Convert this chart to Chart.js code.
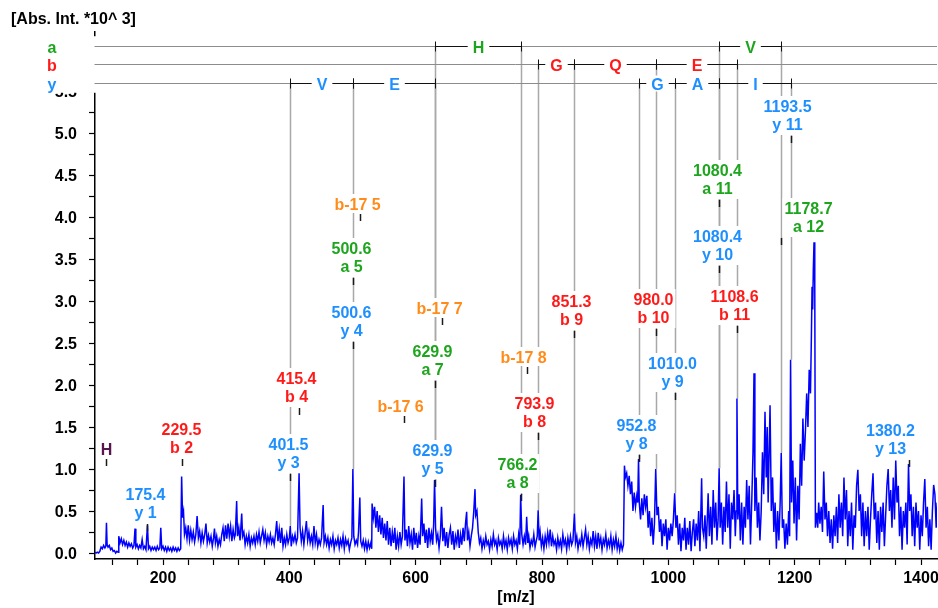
<!DOCTYPE html>
<html>
<head>
<meta charset="utf-8">
<script src="https://cdn.jsdelivr.net/npm/chart.js@4/dist/chart.umd.min.js"></script>
<style>
  html, body { margin: 0; padding: 0; background: #fff; }
  canvas { display: block; }
</style>
</head>
<body>
<canvas id="spec" width="938" height="608"></canvas>
<script>
// ---------- MS/MS spectrum: [m/z, intensity (x10^3)] ----------
const spectrumLow = [
  [92.4,0.01],[94,0.0],[96,0.01],[98,0.0],[100,0.02],[102,0.07],[104,0.05],[106,0.09],[108,0.06],[109.5,0.08],
  [110.5,0.36],[111.5,0.1],[113,0.07],[115,0.09],[117,0.04],[119,0.06],[121,0.02],[123,0.03],[125,0.0],[127,0.02],
  [129,0.01],[130,0.2],[132,0.12],[134,0.17],[136,0.1],[138,0.15],[140,0.09],[142,0.13],[144,0.07],[146,0.12],
  [148,0.08],[150,0.11],[152,0.06],[154,0.09],[155.7,0.29],[157,0.07],[159,0.1],[161,0.05],[163,0.09],[165,0.06],
  [167,0.16],[169,0.05],[171,0.08],[173,0.04],[175.4,0.33],[177,0.05],[179,0.08],[181,0.03],[183,0.07],[185,0.04],
  [187,0.07],[189,0.03],[191,0.08],[193,0.04],[195,0.06],[196.5,0.3],[198,0.05],[200,0.08],[202,0.03],[204,0.07],
  [206,0.02],[208,0.07],[210,0.03],[212,0.06],[214,0.02],[216,0.07],[218,0.03],[220,0.06],[222,0.02],[224,0.06],
  [226,0.03],[228,0.05]
];
const spectrumMidLow = [
  [229.5,0.91],[231,0.42],[232.5,0.49],[234,0.22],[236,0.3],[238,0.17],[240,0.33],[242,0.15],[244,0.27],[246,0.16],
  [248,0.25],[250,0.13],[252,0.22],[254,0.44],[256,0.18],[258,0.26],[260,0.12],[262,0.24],[264,0.14],[266,0.22],
  [268,0.35],[270,0.12],[272,0.21],[274,0.13],[276,0.2],[278,0.08],[280,0.18],[281.5,0.29],[283,0.12],[285,0.2],
  [287,0.08],[289,0.16],[291,0.1],[293,0.22],[295,0.3],[297,0.14],[299,0.33],[301,0.17],[303,0.35],[305,0.2],
  [307,0.32],[309,0.14],[311,0.28],[313,0.18],[314.5,0.22],[316.6,0.62],[318,0.2],[320,0.3],[322,0.15],[324.6,0.47],
  [326,0.2],[328,0.25],[330,0.1],[332,0.2],[334,0.12],[336,0.22],[338,0.08],[340,0.18],[342,0.12],[344,0.2],
  [346,0.1],[348,0.22],[350,0.14],[352,0.25],[354,0.12],[356,0.2],[358,0.28],[360,0.15],[362,0.24],[364,0.1],
  [366,0.2],[368,0.13],[370,0.22],[372,0.12],[374,0.18],[376,0.1],[378,0.22],[380,0.38],[382,0.14],[384,0.28],
  [386,0.12],[388,0.3],[390,0.08],[392,0.18],[394,0.1],[396,0.22],[398,0.12],[400,0.18],[401.5,0.32],[403,0.08],
  [405,0.2],[407,0.14],[409,0.22],[411,0.12],[413,0.18],[415.4,0.95],[417,0.3],[419,0.14],[421,0.26],[423,0.1],
  [425,0.24],[427,0.38],[429,0.15],[431,0.25],[433,0.12],[435,0.2],[437,0.1],[439,0.32],[441,0.12],[443,0.22],
  [445,0.08],[447,0.16],[449,0.1],[451,0.18],[453.5,0.57],[455,0.12],[457,0.2],[459,0.1],[461,0.18],[463,0.06],
  [465,0.16],[467,0.1],[469,0.2],[471,0.05],[473,0.15],[475,0.1],[477,0.18],[479,0.06],[481,0.16],[483,0.09],
  [485,0.2],[487,0.05],[489,0.17],[491,0.1],[493,0.15],[495,0.04],[497,0.12],[499,0.18]
];
const spectrumMid = [
  [500.6,1.0],[502,0.2],[504,0.1],[506,0.15],[508,0.1],[509.5,0.25],[511.6,0.66],[513,0.14],[515,0.08],[517,0.15],
  [519,0.05],[521,0.14],[523,0.04],[525,0.13],[527,0.06],[529,0.12],[530.4,0.05],[531,0.59],[533,0.42],[535,0.55],
  [537,0.3],[539,0.5],[541,0.25],[543,0.45],[545,0.22],[547,0.42],[549,0.18],[551,0.35],[553,0.15],[555,0.38],
  [557,0.1],[559,0.3],[561,0.08],[563,0.25],[565,0.12],[567,0.3],[569,0.04],[571,0.2],[573,0.08],[575,0.25],
  [577,0.1],[579,0.2],[581.5,0.91],[583,0.15],[585,0.28],[587,0.08],[589,0.32],[591,0.12],[593,0.22],[595,0.04],
  [597,0.3],[599,0.1],[601,0.24],[603,0.06],[605,0.2],[607,0.1],[609.5,0.65],[611,0.2],[613,0.35],[615,0.12],
  [617,0.28],[619,0.06],[621,0.3],[623,0.14],[625,0.24],[627,0.1],[628.5,0.35],[629.9,0.87],[631.5,0.3],[633,0.15],
  [635,0.22],[637,0.06],[639,0.2],[640.9,0.55],[643,0.14],[645,0.3],[647,0.08],[649,0.25],[651,0.06],[653,0.22],
  [655,0.3],[657,0.1],[659,0.26],[661,0.04],[663,0.2],[665,0.12],[667,0.28],[669,0.06],[671,0.22],[673,0.1],
  [675,0.3],[677,0.14],[679,0.36],[680.7,0.49],[682,0.15],[684,0.25],[686,0.08],[688,0.2],[690,0.3],[692,0.5],
  [693.9,0.76],[695,0.45],[697,0.5],[699,0.25],[701,0.12],[703,0.18],[705,0.05],[707,0.15],[709,0.08],[711,0.2],
  [713,0.1],[715,0.14],[717,0.04],[719,0.16],[721,0.08],[723,0.22],[725,0.1],[727,0.15],[729,0.04],[731,0.18],
  [733,0.1],[735,0.14],[737,0.05],[739,0.2],[741,0.08],[743,0.15],[745,0.04],[747,0.18],[749,0.1],[751,0.16],
  [753,0.05],[755,0.2],[757,0.1],[759,0.15],[761,0.05],[763,0.22],[764.8,0.1],[766.2,0.69],[768,0.22],[770,0.1],
  [772,0.2],[774,0.1],[775.7,0.43],[777.5,0.12],[779,0.2],[781,0.06],[783,0.15],[785,0.1],[787,0.22],[789,0.07],
  [791,0.15],[792.5,0.2],[793.9,0.51],[795.5,0.15],[797,0.25],[799,0.08],[801,0.18],[803,0.05],[805,0.2],[807,0.1],
  [809,0.24],[811,0.12],[813,0.28],[815,0.08],[817,0.2],[819,0.1],[821,0.15],[823,0.04],[825,0.18],[827,0.08],
  [829,0.15],[831,0.05],[833,0.22],[835,0.1],[837,0.16],[839,0.04],[841,0.18],[843,0.08],[845,0.2],[847,0.1],
  [849,0.15],[851.3,0.47],[853,0.12],[855,0.2],[857,0.05],[859,0.15],[861,0.1],[863,0.22],[865,0.08],[867,0.18],
  [869,0.28],[871,0.1],[873,0.2],[875,0.05],[877,0.16],[879,0.1],[881,0.26],[883,0.08],[885,0.2],[887,0.05],
  [889,0.24],[891,0.1],[893,0.18],[895,0.04],[897,0.16],[899,0.1],[901,0.22],[903,0.06],[905,0.15],[907,0.08],
  [909,0.2],[911,0.04],[913,0.16],[915,0.08],[917,0.2],[919,0.05],[921,0.14],[923,0.03],[925,0.12],[927,0.04],
  [929,0.1]
];
const spectrumHigh = [
  [930.5,1.04],[932,0.9],[934,0.95],[936,0.8],[938,0.92],[940,0.7],[942,0.85],[944,0.5],[946,0.72],[948,0.55],
  [950,0.68],[951.5,0.6],[952.8,1.12],[954,0.6],[956,0.4],[958,0.65],[960,0.45],[962,0.7],[964,0.55],[966,0.68],
  [968,0.3],[970,0.5],[972,0.2],[974,0.42],[976,0.1],[978,0.35],[980.0,1.0],[982,0.45],[984,0.55],[986,0.25],
  [988,0.4],[990,0.08],[992,0.35],[994,0.2],[996,0.4],[998,0.04],[1000,0.3],[1002,0.15],[1004,0.35],[1006,0.2],
  [1008,0.4],[1010.0,0.71],[1012,0.3],[1014,0.45],[1016,0.1],[1018,0.35],[1020,0.02],[1022,0.3],[1024,0.15],[1026,0.42],
  [1028,0.04],[1030,0.3],[1032,0.1],[1034,0.38],[1036,0.02],[1038,0.25],[1040,0.4],[1042,0.08],[1044,0.35],[1046,0.15],
  [1048,0.5],[1050,0.02],[1052.7,0.89],[1054,0.3],[1056,0.2],[1058,0.45],[1060,0.05],[1063,0.71],[1065,0.2],[1067,0.55],
  [1069,0.1],[1071,0.75],[1073,0.3],[1075,0.6],[1077,0.15],[1078.8,0.4],[1080.4,1.01],[1082,0.3],[1084,0.6],[1086,0.1],
  [1088,0.55],[1090,0.25],[1092,0.85],[1094,0.3],[1096,0.7],[1098,0.05],[1100,0.6],[1102,0.4],[1104,0.75],[1106,0.2],
  [1107.4,0.5],[1108.6,1.84],[1110,0.4],[1112,0.7],[1114,0.15],[1116,0.6],[1118,0.1],[1120,0.55],[1122,0.3],[1124,0.87],
  [1126,0.4],[1128,0.8],[1130,0.1],[1132,0.6],[1134,1.2],[1135.6,2.14],[1137,0.5],[1139,0.9],[1141,0.3],[1143,0.6],
  [1145,0.15],[1147,0.5],[1149,1.2],[1151,0.7],[1153,1.68],[1155,0.9],[1156.5,1.5],[1158,0.6],[1161,1.76],[1163,0.5],
  [1165,0.9],[1167,0.25],[1169,0.6],[1171,0.05],[1173,0.5],[1175,0.15],[1177,0.6],[1178.7,1.19],[1180.5,0.3],[1182.5,0.4],
  [1184.5,0.05],[1186.5,0.35],[1188.5,0.1],[1190.5,0.5],[1192,0.2],[1193.5,2.3],[1195,0.6],[1197,1.1],[1199,0.35],[1201,0.9],
  [1203,0.15],[1205,0.8],[1207,0.4],[1209,1.3],[1211,0.8],[1213,1.6],[1215,1.1],[1217,1.45],[1219,1.9],[1221,1.5],
  [1223,2.18],[1225,1.9],[1226.5,2.6],[1227.5,3.17],[1228.5,2.9],[1229.5,3.37],[1230.6,3.7],[1231.8,3.2],[1232.8,0.3]
];
const spectrumTail = [
  [1234.8,0.48],[1236.5,0.3],[1238,0.6],[1240,0.35],[1242,0.55],[1244,0.25],[1246,0.97],[1248,0.4],[1250,0.6],[1252,0.2],
  [1254,0.5],[1256,0.12],[1258,0.4],[1260,0.05],[1262,0.45],[1264,0.2],[1266,0.55],[1268,0.12],[1270,0.7],[1272,0.3],
  [1274,0.6],[1276,0.2],[1278,0.9],[1280,0.4],[1282,0.75],[1284,0.08],[1286,0.5],[1288,0.2],[1290,0.6],[1292,0.04],
  [1294,0.45],[1296,0.3],[1298,0.8],[1300,0.99],[1302,0.5],[1304,0.7],[1306,0.2],[1308,0.6],[1310,0.08],[1312,0.5],
  [1314,0.2],[1316,0.55],[1318,0.04],[1320,0.4],[1322,0.7],[1324,0.95],[1326,0.4],[1328,0.6],[1330,0.12],[1332,0.5],
  [1334,0.04],[1336,0.55],[1338,0.25],[1340,0.6],[1342,0.08],[1344,0.45],[1346,0.8],[1348,1.0],[1350,0.5],[1352,0.75],
  [1354,0.3],[1356,0.9],[1358,0.4],[1360,1.1],[1362,0.6],[1364,0.8],[1366,0.2],[1368,0.55],[1370,0.04],[1372,0.5],
  [1374,0.3],[1376,0.6],[1378,0.1],[1380.2,1.06],[1382,0.5],[1384,0.7],[1386,0.2],[1388,0.55],[1390,0.08],[1392,0.6],
  [1394,0.3],[1396,0.5],[1398,0.04],[1400,0.45],[1402,0.2],[1404,0.6],[1406,0.88],[1408,0.3],[1410,0.55],[1412,0.08],
  [1414,0.4],[1416,0.04],[1418,0.5],[1420,0.81],[1422,0.7],[1424,0.3],[1425.5,0.6]
];

// ---------- fragment annotations ----------
const ionMz    = [175.4, 229.5, 401.5, 415.4, 500.6, 500.6, 629.9, 629.9, 766.2, 793.9, 851.3, 952.8, 980.0, 1010.0, 1080.4, 1080.4, 1108.6, 1178.7, 1193.5, 1380.2];
const ionNames = ['y 1', 'b 2', 'y 3', 'b 4', 'a 5', 'y 4', 'a 7', 'y 5', 'a 8', 'b 8', 'b 9', 'y 8', 'b 10', 'y 9', 'a 11', 'y 10', 'b 11', 'a 12', 'y 11', 'y 13'];
// immonium and water/ammonia-loss ions (single-line tags)
const otherMz    = [110.5, 511.6, 581.5, 640.9, 776.9];
const otherNames = ['H', 'b-17 5', 'b-17 6', 'b-17 7', 'b-17 8'];

// ---------- sequence ladders: [from m/z, to m/z, residue] ----------
const ladderA = [[629.9, 766.2, 'H'], [1080.4, 1178.7, 'V']];
const ladderB = [[793.9, 851.3, 'G'], [851.3, 980.0, 'Q'], [980.0, 1108.6, 'E']];
const ladderY = [[401.5, 500.6, 'V'], [500.6, 629.9, 'E'], [952.8, 1010.0, 'G'], [1010.0, 1080.4, 'A'], [1080.4, 1193.5, 'I']];

// ---------- axis ticks ----------
const xTickValues = [120,160,200,240,280,320,360,400,440,480,520,560,600,640,680,720,760,800,840,880,920,960,1000,1040,1080,1120,1160,1200,1240,1280,1320,1360,1400];
const xTickLabels = ['200','400','600','800','1000','1200','1400'];
const yTickValues = [0,0.25,0.5,0.75,1,1.25,1.5,1.75,2,2.25,2.5,2.75,3,3.25,3.5,3.75,4,4.25,4.5,4.75,5,5.25,5.5];
const yTickLabels = ['0.0','0.5','1.0','1.5','2.0','2.5','3.0','3.5','4.0','4.5','5.0','5.5'];

// ---------- presentation ----------
const FONT = '"Liberation Sans", Arial, Helvetica, sans-serif';
const COLORS = { a: '#1ea51e', b: '#ff1a1a', y: '#1e8fff', loss: '#ff8c1a', imm: '#56164e', trace: '#0000ff', guide: '#a8a8a8' };
const ladderRowLevel = { a: 6.039, b: 5.818, y: 5.592 };
// tag placement: [intensity level of the pointer foot, horizontal shift in px]
const tagPlacement = {
  'y 1': [0.26, -2], 'b 2': [1.04, -1], 'y 3': [0.86, -2], 'b 4': [1.64, -3], 'a 5': [3.19, -2],
  'y 4': [2.43, -2], 'a 7': [1.96, -3], 'y 5': [0.79, -3], 'a 8': [0.62, -4], 'b 8': [1.35, -4],
  'b 9': [2.56, -3], 'y 8': [1.08, -3], 'b 10': [2.58, -3], 'y 9': [1.82, -3], 'a 11': [4.12, -2],
  'y 10': [3.33, -2], 'b 11': [2.62, -3], 'a 12': [3.67, 27], 'y 11': [4.88, -4], 'y 13': [1.02, -19],
  'H': [1.04, 0], 'b-17 5': [3.95, -3], 'b-17 6': [1.55, -4], 'b-17 7': [2.71, -3], 'b-17 8': [2.13, -4]
};

const spectrum = [].concat(spectrumLow, spectrumMidLow, spectrumMid, spectrumHigh, spectrumTail)
  .map(([x, y]) => ({ x, y }));

function intensityAt(mz) {
  let best = spectrum[0], d = Infinity;
  for (const p of spectrum) {
    const dd = Math.abs(p.x - mz);
    if (dd < d) { d = dd; best = p; }
  }
  return best.y;
}

const boldFont = `bold 16px ${FONT}`;

function drawTag(ctx, cx, tx, yb, lines, color) {
  ctx.font = boldFont;
  const w = Math.max(...lines.map(t => ctx.measureText(t).width));
  const top = lines.length === 2 ? yb - 47 : yb - 27;
  ctx.fillStyle = '#fff';
  ctx.fillRect(cx - w / 2 - 2, top, w + 4, yb - 8 - top);
  ctx.fillStyle = color;
  ctx.textAlign = 'center';
  ctx.textBaseline = 'alphabetic';
  if (lines.length === 2) {
    ctx.fillText(lines[0], cx, yb - 31);
    ctx.fillText(lines[1], cx, yb - 13);
  } else {
    ctx.fillText(lines[0], cx, yb - 11);
  }
  ctx.strokeStyle = '#1a1a1a';
  ctx.lineWidth = 1.5;
  ctx.beginPath();
  ctx.moveTo(tx, yb - 7);
  ctx.lineTo(tx, yb);
  ctx.stroke();
}

const ladders = { a: ladderA, b: ladderB, y: ladderY };

const annotationPlugin = {
  id: 'spectrumAnnotations',
  beforeDatasetsDraw(chart) {
    const { ctx, chartArea, scales: { x, y } } = chart;
    ctx.save();
    // panel holding the series letters of the ladders
    const rowA = y.getPixelForValue(ladderRowLevel.a);
    const rowY = y.getPixelForValue(ladderRowLevel.y);
    ctx.fillStyle = '#fff';
    ctx.fillRect(34, rowA - 9.5, chartArea.left + 2 - 34, rowY + 9.5 - (rowA - 9.5));

    // guide lines from each ladder ion down to its peak
    ctx.strokeStyle = COLORS.guide;
    ctx.lineWidth = 1.5;
    for (const s of ['y', 'b', 'a']) {
      const row = y.getPixelForValue(ladderRowLevel[s]);
      const ends = new Set();
      ladders[s].forEach(([f, t]) => { ends.add(f); ends.add(t); });
      ends.forEach(mz => {
        const px = Math.round(x.getPixelForValue(mz)) + 0.5;
        ctx.beginPath();
        ctx.moveTo(px, row);
        ctx.lineTo(px, y.getPixelForValue(intensityAt(mz)));
        ctx.stroke();
      });
    }
    // ladder baselines
    ctx.strokeStyle = '#8c8c8c';
    ctx.lineWidth = 1;
    for (const s of ['a', 'b', 'y']) {
      const row = Math.round(y.getPixelForValue(ladderRowLevel[s])) + 0.5;
      ctx.beginPath();
      ctx.moveTo(chartArea.left - 0.5, row);
      ctx.lineTo(chartArea.right, row);
      ctx.stroke();
    }
    ctx.restore();
  },
  afterDatasetsDraw(chart) {
    const { ctx, scales: { x, y } } = chart;
    ctx.save();
    // fragment tags
    ionMz.forEach((mz, i) => {
      const name = ionNames[i];
      const [lvl, dx] = tagPlacement[name];
      const tx = Math.round(x.getPixelForValue(mz)) + 0.5;
      drawTag(ctx, tx + dx, tx, Math.round(y.getPixelForValue(lvl)), [mz.toFixed(1), name], COLORS[name[0]]);
    });
    otherMz.forEach((mz, i) => {
      const name = otherNames[i];
      const [lvl, dx] = tagPlacement[name];
      const tx = Math.round(x.getPixelForValue(mz)) + 0.5;
      drawTag(ctx, tx + dx, tx, Math.round(y.getPixelForValue(lvl)), [name], name === 'H' ? COLORS.imm : COLORS.loss);
    });

    // sequence ladders
    ctx.font = boldFont;
    ctx.textAlign = 'center';
    ctx.textBaseline = 'alphabetic';
    for (const s of ['a', 'b', 'y']) {
      const row = Math.round(y.getPixelForValue(ladderRowLevel[s])) + 0.5;
      ladders[s].forEach(([f, t, res]) => {
        const x1 = Math.round(x.getPixelForValue(f)) + 0.5;
        const x2 = Math.round(x.getPixelForValue(t)) + 0.5;
        ctx.strokeStyle = '#111';
        ctx.lineWidth = 1;
        ctx.beginPath();
        ctx.moveTo(x1, row); ctx.lineTo(x2, row);
        ctx.moveTo(x1, row - 5); ctx.lineTo(x1, row + 5);
        ctx.moveTo(x2, row - 5); ctx.lineTo(x2, row + 5);
        ctx.stroke();
        const cx = (x1 + x2) / 2;
        const w = ctx.measureText(res).width;
        ctx.fillStyle = '#fff';
        ctx.fillRect(cx - w / 2 - 5, row - 8, w + 10, 16);
        ctx.fillStyle = COLORS[s];
        ctx.fillText(res, cx, row + 6.5);
      });
      ctx.fillStyle = COLORS[s];
      ctx.fillText(s, 52, row + 6.5);
    }

    ctx.restore();
  },
  afterDraw(chart) {
    const { ctx } = chart;
    ctx.save();
    ctx.font = boldFont;
    ctx.fillStyle = '#000';
    ctx.textAlign = 'left';
    ctx.textBaseline = 'alphabetic';
    ctx.fillText('[Abs. Int. *10^ 3]', 11, 24);
    ctx.restore();
  }
};

const axisFont = { family: FONT, size: 16, weight: 'bold' };
const noEdgePadding = s => { s.paddingLeft = 0; s.paddingRight = 0; s.paddingTop = 0; s.paddingBottom = 0; };

new Chart(document.getElementById('spec'), {
  type: 'line',
  data: {
    datasets: [{
      data: spectrum,
      borderColor: COLORS.trace,
      borderWidth: 1.5,
      pointRadius: 0,
      tension: 0,
      fill: false
    }]
  },
  options: {
    responsive: false,
    animation: false,
    events: [],
    layout: { autoPadding: false, padding: { top: 32, right: 1, left: 0, bottom: 0 } },
    plugins: { legend: { display: false }, tooltip: { enabled: false } },
    scales: {
      x: {
        type: 'linear',
        min: 92.35,
        max: 1425.3,
        afterBuildTicks: s => { s.ticks = xTickValues.map(value => ({ value })); },
        afterFit: s => { s.height = 49; noEdgePadding(s); },
        ticks: {
          autoSkip: false, maxRotation: 0, padding: 4, color: '#000', font: axisFont,
          callback: v => xTickLabels.includes(String(v)) ? String(v) : ''
        },
        grid: { display: true, drawOnChartArea: false, drawTicks: true, tickLength: 6, tickColor: '#000', tickWidth: 1.2 },
        border: { display: true, color: '#000', width: 1.5 },
        title: { display: true, text: '[m/z]', color: '#000', font: axisFont, padding: { top: 0, bottom: 1 } }
      },
      y: {
        type: 'linear',
        min: -0.0714,
        max: 6.2024,
        afterBuildTicks: s => { s.ticks = yTickValues.map(value => ({ value })); },
        afterFit: s => { s.width = 95; noEdgePadding(s); },
        ticks: {
          autoSkip: false, padding: 12, labelOffset: 2, color: '#000', font: axisFont,
          callback: v => { const t = v.toFixed(1); return (yTickLabels.includes(t) && Math.abs(v * 2 - Math.round(v * 2)) < 1e-6) ? t : ''; }
        },
        grid: { display: true, drawOnChartArea: false, drawTicks: true, tickLength: 6, tickColor: '#000', tickWidth: 1.2 },
        border: { display: true, color: '#000', width: 1.5 }
      }
    }
  },
  plugins: [annotationPlugin]
});
</script>
</body>
</html>
